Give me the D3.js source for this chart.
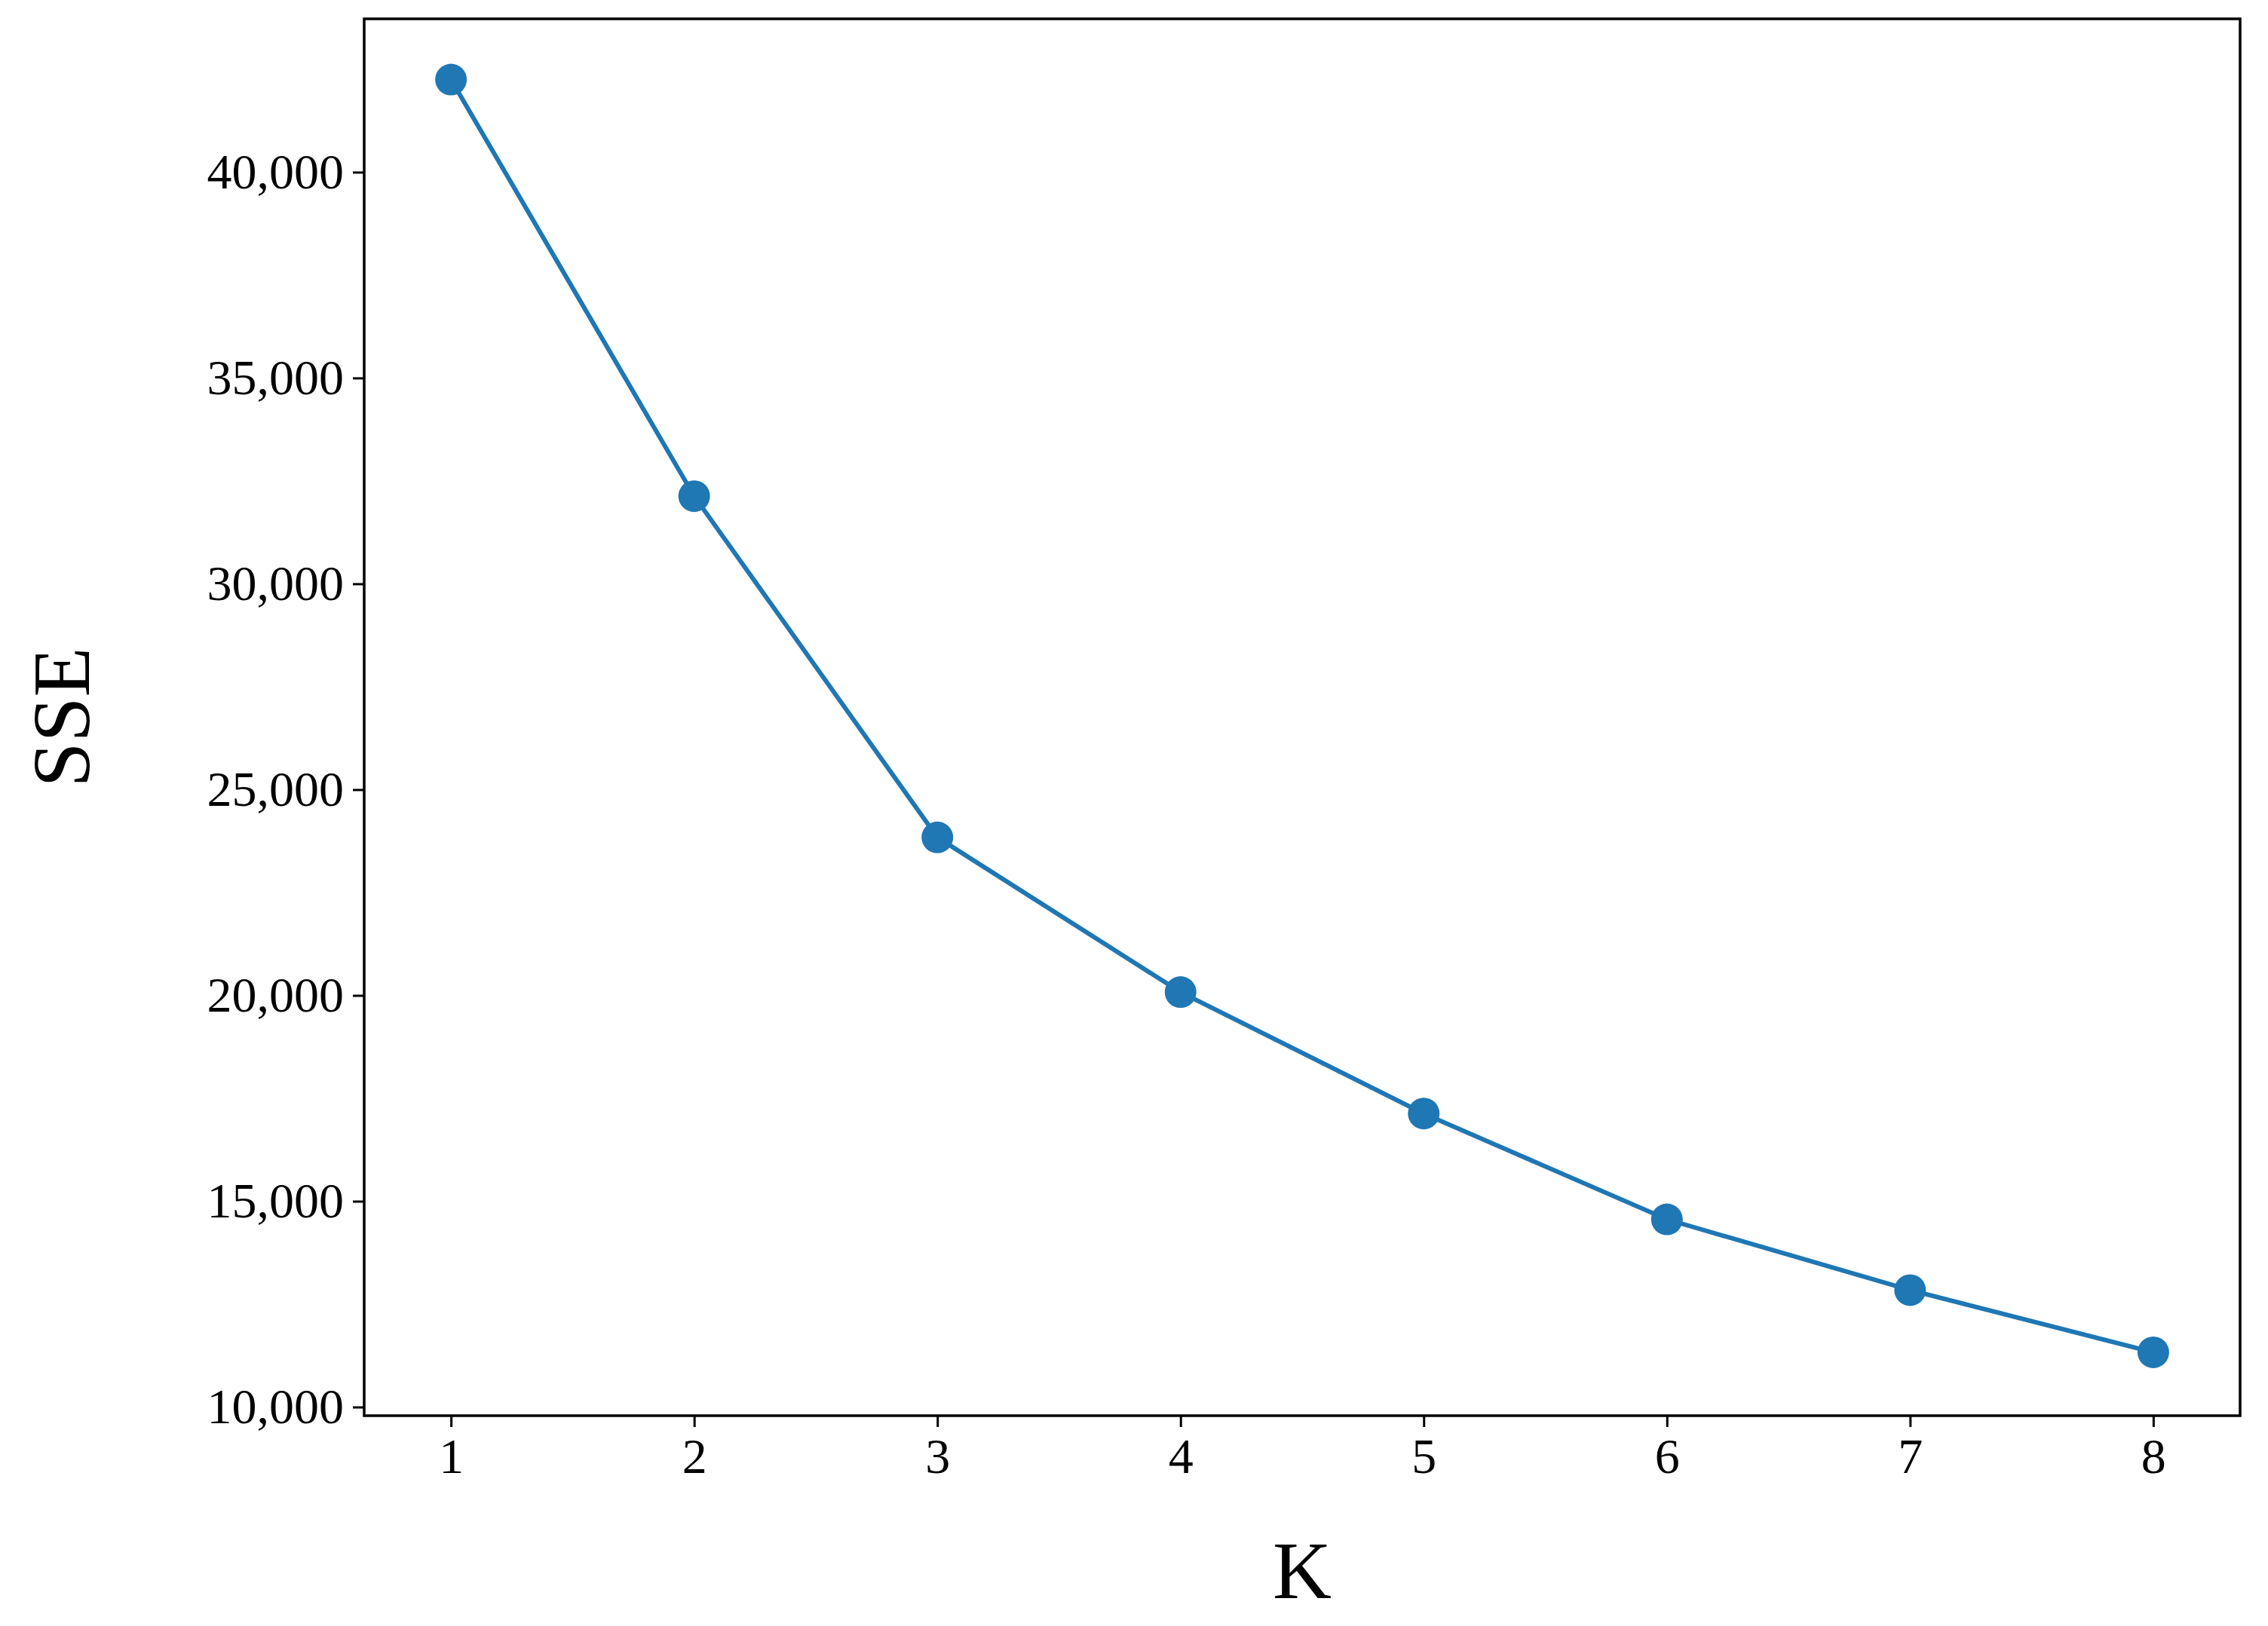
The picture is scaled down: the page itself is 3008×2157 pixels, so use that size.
<!DOCTYPE html>
<html>
<head>
<meta charset="utf-8">
<script src="https://cdn.jsdelivr.net/npm/d3@7"></script>
<style>
  body { margin: 0; background: #fff; }
  text { font-family: "Liberation Serif", "DejaVu Serif", serif; fill: #000; }
</style>
</head>
<body>
<svg id="chart"></svg>
<script>
const kValues = [1, 2, 3, 4, 5, 6, 7, 8];
const sseValues = [42250, 32130, 23840, 20080, 17130, 14560, 12840, 11330];
const yTicks = [10000, 15000, 20000, 25000, 30000, 35000, 40000];

const W = 3008, H = 2157;
const margin = { left: 483, right: W - 2971, top: 25, bottom: H - 1878 };

const svg = d3.select("#chart").attr("width", W).attr("height", H);

const x = d3.scaleLinear().domain([0.643, 8.357]).range([margin.left, W - margin.right]);
const y = d3.scaleLinear().domain([9790, 43725]).range([H - margin.bottom, margin.top]);

// x axis
const xAxis = svg.append("g")
    .attr("transform", `translate(0,${H - margin.bottom})`)
    .call(d3.axisBottom(x).tickValues(kValues).tickFormat(d3.format("d")).tickSize(15).tickPadding(14));
// y axis
const yAxis = svg.append("g")
    .attr("transform", `translate(${margin.left},0)`)
    .call(d3.axisLeft(y).tickValues(yTicks).tickFormat(d3.format(",")).tickSize(15).tickPadding(12));

[xAxis, yAxis].forEach(a => {
    a.select(".domain").remove();
    a.selectAll(".tick line").attr("stroke", "#000").attr("stroke-width", 3);
    a.selectAll(".tick text").attr("font-size", 66).attr("font-family", "Liberation Serif");
});

// frame
svg.append("rect")
    .attr("x", margin.left).attr("y", margin.top)
    .attr("width", W - margin.left - margin.right)
    .attr("height", H - margin.top - margin.bottom)
    .attr("fill", "none").attr("stroke", "#000").attr("stroke-width", 3.5);

const data = kValues.map((k, i) => ({ k, v: sseValues[i] }));

svg.append("path")
    .datum(data)
    .attr("fill", "none")
    .attr("stroke", "#1f77b4")
    .attr("stroke-width", 6)
    .attr("d", d3.line().x(d => x(d.k)).y(d => y(d.v)));

svg.selectAll("circle.pt").data(data).enter()
    .append("circle")
    .attr("class", "pt")
    .attr("cx", d => x(d.k)).attr("cy", d => y(d.v))
    .attr("r", 21)
    .attr("fill", "#1f77b4");

// labels
svg.append("text")
    .attr("x", (margin.left + W - margin.right) / 2).attr("y", 2120)
    .attr("text-anchor", "middle").attr("font-size", 108)
    .text("K");

svg.append("text")
    .attr("transform", `translate(118,${(margin.top + H - margin.bottom) / 2}) rotate(-90)`)
    .attr("text-anchor", "middle").attr("font-size", 108)
    .text("SSE");
</script>
</body>
</html>
